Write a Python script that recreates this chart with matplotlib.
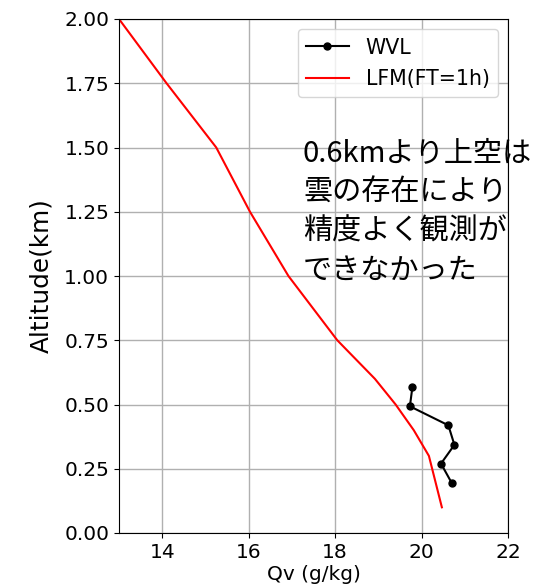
import matplotlib
matplotlib.use("Agg")
import matplotlib.pyplot as plt

# WVL observation
wvl_qv = [19.79, 19.73, 20.62, 20.76, 20.45, 20.70]
wvl_alt = [0.570, 0.493, 0.419, 0.343, 0.270, 0.194]

# LFM forecast (FT=1h)
lfm_qv = [20.47, 20.17, 19.82, 19.40, 18.92, 18.05, 16.92, 16.03, 15.25, 14.10, 13.00]
lfm_alt = [0.10, 0.30, 0.40, 0.50, 0.60, 0.75, 1.00, 1.25, 1.50, 1.75, 2.00]

xticks = [14, 16, 18, 20, 22]
yticks = [0.00, 0.25, 0.50, 0.75, 1.00, 1.25, 1.50, 1.75, 2.00]
note = "0.6kmより上空は\n雲の存在により\n精度よく観測が\nできなかった"

plt.rcParams["font.family"] = ["DejaVu Sans", "Noto Sans CJK JP"]

fig = plt.figure(figsize=(5.37, 5.86), dpi=100)
ax = fig.add_axes([119/537, 53/586, 389/537, 514/586])

ax.plot(wvl_qv, wvl_alt, color="black", marker="o", markersize=5, linewidth=1.5, label="WVL")
ax.plot(lfm_qv, lfm_alt, color="red", linewidth=1.5, label="LFM(FT=1h)")

ax.set_xlim(13, 22)
ax.set_ylim(0, 2)
ax.set_xticks(xticks)
ax.set_yticks(yticks)
ax.set_yticklabels([f"{v:.2f}" for v in yticks])
ax.tick_params(labelsize=14.5)
ax.grid(True, color="#b0b0b0", linewidth=1)
ax.set_xlabel("Qv (g/kg)", fontsize=14.5, labelpad=2)
ax.set_ylabel("Altitude(km)", fontsize=17.8, labelpad=8)

ax.legend(loc="upper right", fontsize=14.8, handlelength=2.1, labelspacing=0.55)
ax.text(0.473, 0.768, note, transform=ax.transAxes, va="top", ha="left",
        fontsize=21, family=["Noto Sans CJK JP"], linespacing=1.4)

fig.savefig("out.png", dpi=100)
